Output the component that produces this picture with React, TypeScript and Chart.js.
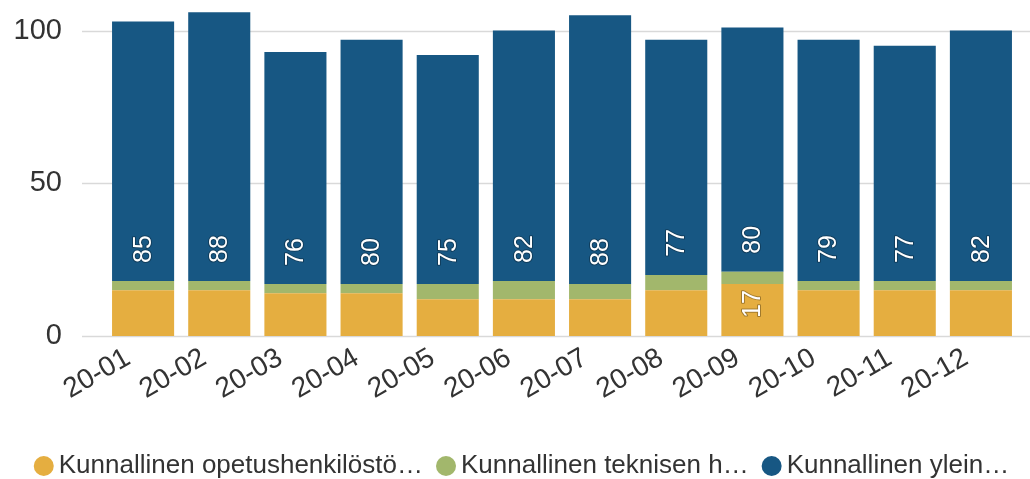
import React, { useEffect, useRef } from "react";
import { Chart, registerables } from "chart.js";

Chart.register(...registerables);

const categories = ["20-01", "20-02", "20-03", "20-04", "20-05", "20-06", "20-07", "20-08", "20-09", "20-10", "20-11", "20-12"];
const opetus = [15, 15, 14, 14, 12, 12, 12, 15, 17, 15, 15, 15];
const tekninen = [3, 3, 3, 3, 5, 6, 5, 5, 4, 3, 3, 3];
const yleinen = [85, 88, 76, 80, 75, 82, 88, 77, 80, 79, 77, 82];
const seriesNames = ["Kunnallinen opetushenkilöstö…", "Kunnallinen teknisen h…", "Kunnallinen ylein…"];
const seriesColors = ["#E5AE40", "#A2B76C", "#175783"];
const yTicks = [0, 50, 100];

const FONT = "'Liberation Sans', Arial, sans-serif";
const TEXT = "#333333";

const axisPlugin = {
  id: "customAxes",
  beforeDatasetsDraw(chart: any) {
    const { ctx, scales } = chart;
    const y = scales.y;
    const x = scales.x;
    ctx.save();
    // grid lines
    ctx.strokeStyle = "#d9d9d9";
    ctx.lineWidth = 1.5;
    yTicks.forEach((v) => {
      const py = Math.round(y.getPixelForValue(v)) + 0.5;
      ctx.beginPath();
      ctx.moveTo(82, py);
      ctx.lineTo(chart.width, py);
      ctx.stroke();
    });
    // y labels
    ctx.fillStyle = TEXT;
    ctx.font = `29px ${FONT}`;
    ctx.textAlign = "right";
    ctx.textBaseline = "middle";
    yTicks.forEach((v) => {
      ctx.fillText(String(v), 62, y.getPixelForValue(v));
    });
    // x labels
    ctx.font = `28px ${FONT}`;
    ctx.textAlign = "right";
    ctx.textBaseline = "middle";
    const base = y.getPixelForValue(0);
    categories.forEach((c, i) => {
      const px = x.getPixelForValue(i);
      ctx.save();
      ctx.translate(px - 15, base + 20);
      ctx.rotate(-Math.PI / 6);
      ctx.fillText(c, 0, 0);
      ctx.restore();
    });
    // legend
    ctx.font = `26px ${FONT}`;
    ctx.textAlign = "left";
    const r = 10;
    const gapIn = 5;
    const gapOut = 13;
    const widths = seriesNames.map((n) => ctx.measureText(n).width);
    const total = widths.reduce((a, w) => a + 2 * r + gapIn + w, 0) + gapOut * (seriesNames.length - 1);
    let lx = 521.5 - total / 2;
    const ly = 466;
    seriesNames.forEach((n, i) => {
      ctx.fillStyle = seriesColors[i];
      ctx.beginPath();
      ctx.arc(lx + r, ly, r, 0, Math.PI * 2);
      ctx.fill();
      ctx.fillStyle = TEXT;
      ctx.fillText(n, lx + 2 * r + gapIn, ly);
      lx += 2 * r + gapIn + widths[i] + gapOut;
    });
    ctx.restore();
  },
};

const labelPlugin = {
  id: "segLabels",
  afterDatasetsDraw(chart: any) {
    const { ctx } = chart;
    ctx.save();
    ctx.font = `25px ${FONT}`;
    ctx.textAlign = "center";
    ctx.textBaseline = "middle";
    chart.data.datasets.forEach((ds: any, di: number) => {
      const meta = chart.getDatasetMeta(di);
      meta.data.forEach((el: any, i: number) => {
        const v = ds.data[i];
        const show = di === 2 || (di === 0 && v >= 17);
        if (!show) return;
        ctx.save();
        ctx.translate(el.x, el.base - 32);
        ctx.rotate(-Math.PI / 2);
        ctx.lineWidth = 2;
        ctx.lineJoin = "round";
        ctx.strokeStyle = "rgba(0,0,0,0.3)";
        ctx.strokeText(String(v), 0, 1);
        ctx.fillStyle = "#ffffff";
        ctx.fillText(String(v), 0, 1);
        ctx.restore();
      });
    });
    ctx.restore();
  },
};

export default function App() {
  const ref = useRef<HTMLCanvasElement>(null);
  useEffect(() => {
    document.body.style.margin = "0";
    const chart = new Chart(ref.current!, {
      type: "bar",
      data: {
        labels: categories,
        datasets: seriesNames.map((n, i) => ({
          label: n,
          data: [opetus, tekninen, yleinen][i],
          backgroundColor: seriesColors[i],
        })),
      },
      options: {
        responsive: false,
        animation: false,
        maintainAspectRatio: false,
        layout: { padding: { left: 105, right: 11, top: 0, bottom: 143 } },
        datasets: { bar: { categoryPercentage: 0.815, barPercentage: 1, borderWidth: 0 } },
        scales: {
          x: { stacked: true, display: false },
          y: { stacked: true, display: false, min: 0, max: 110 },
        },
        plugins: {
          legend: { display: false },
          tooltip: { enabled: false },
        },
      },
      plugins: [axisPlugin, labelPlugin],
    });
    return () => chart.destroy();
  }, []);
  return (
    <div style={{ width: 1030, height: 479 }}>
      <canvas ref={ref} width={1030} height={479} />
    </div>
  );
}
